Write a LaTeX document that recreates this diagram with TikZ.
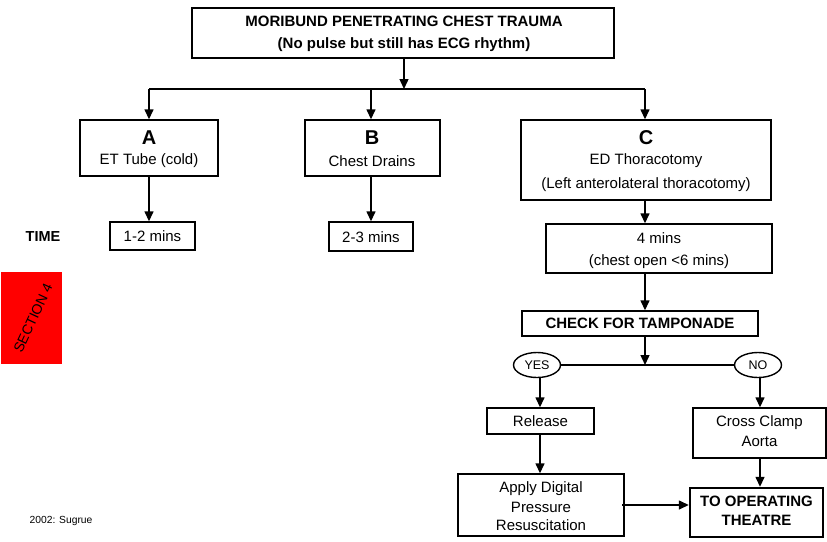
\documentclass[tikz,border=0pt]{standalone}
\usepackage{fontspec}
\setmainfont{Liberation Sans}
\usetikzlibrary{arrows.meta,shapes.geometric}
\begin{document}
\begin{tikzpicture}[x=1pt,y=-1pt,
  box/.style={draw,line width=1.4pt,inner sep=0pt},
  txt/.style={font=\fontsize{15}{18}\selectfont},
  btxt/.style={font=\fontsize{15}{18}\selectfont\bfseries},
  big/.style={font=\fontsize{20}{22}\selectfont\bfseries},
  oval/.style={draw,ellipse,line width=1.4pt,inner sep=0pt,font=\fontsize{12.5}{14}\selectfont},
  arr/.style={line width=1.4pt,-{Triangle[length=10pt,width=9pt]}},
  ln/.style={line width=1.4pt}]
\useasboundingbox (0,0) rectangle (827,541);
% a framed box given by its left, top, right and bottom edges
\newcommand{\boxat}[6][box]{\node[#1,minimum width=#4-#2,minimum height=#5-#3] (#6) at ({(#2+#4)/2},{(#3+#5)/2}) {};}
\boxat{192}{8}{614}{58}{top}
\node[btxt] (topt) at (404,21) {MORIBUND PENETRATING CHEST TRAUMA};
\node[btxt] (topt2) at (404,45) {(No pulse but still has ECG rhythm)};
\boxat{80}{120}{218}{176}{A}
\node[big] (Al) at (149,138) {A};
\node[txt] (At) at (149,161) {ET Tube (cold)};
\boxat{305}{120}{440}{176}{B}
\node[big] (Bl) at (372,138) {B};
\node[txt] (Bt) at (372,161) {Chest Drains};
\boxat{521}{120}{771}{200}{C}
\node[big] (Cl) at (646,138) {C};
\node[txt] (Ct) at (646,161) {ED Thoracotomy};
\node[txt] (Ct2) at (646,185) {(Left anterolateral thoracotomy)};
\boxat{110}{222}{195}{250}{ta}
\node[txt] (tat) at (152.5,236) {1-2 mins};
\boxat{329}{222}{413}{251}{tb}
\node[txt] (tbt) at (371,237) {2-3 mins};
\boxat{546}{224}{772}{273}{tc}
\node[txt] (tct) at (659,238) {4 mins};
\node[txt] (tct2) at (659,262) {(chest open <6 mins)};
\boxat{522}{311}{758}{336}{chk}
\node[btxt] (chkt) at (640,323.5) {CHECK FOR TAMPONADE};
\node[oval,minimum width=47,minimum height=25] (yes) at (537,365) {YES};
\node[oval,minimum width=47,minimum height=25] (no) at (758,365) {NO};
\boxat{487}{408}{594}{434}{rel}
\node[txt] (relt) at (540.5,421) {Release};
\boxat{693}{408}{826}{458}{ccl}
\node[txt] (cclt) at (759.5,423) {Cross Clamp};
\node[txt] (cclt2) at (759.5,441) {Aorta};
\boxat{458}{474}{624}{536}{dig}
\node[txt] (digt) at (541,489) {Apply Digital};
\node[txt] (digt2) at (541,507) {Pressure};
\node[txt] (digt3) at (541,525) {Resuscitation};
\node[draw,line width=2.4pt,minimum width=133,minimum height=49] (op) at (756.5,512.5) {};
\node[btxt] (opt) at (756.5,501) {TO OPERATING};
\node[btxt] (opt2) at (756.5,520) {THEATRE};
% side labels
\node[font=\fontsize{14.5}{16}\selectfont\bfseries] (time) at (43,237) {TIME};
\fill[red] (1,272) rectangle (62,364);
\node[rotate=65,font=\fontsize{14}{16}\selectfont,inner sep=0pt] (sec) at (33,318) {SECTION 4};
\node[font=\fontsize{10.3}{12}\selectfont] (cred) at (61,521) {2002: Sugrue};
% connectors
\coordinate (split) at (404,89);
\draw[arr] (top.south -| split) -- (split);
\draw[ln] (149,89) -- (645,89);
\draw[arr] (149,89) -- (A.north -| 149,0);
\draw[arr] (371,89) -- (B.north -| 371,0);
\draw[arr] (645,89) -- (C.north -| 645,0);
\draw[arr] (A.south -| 149,0) -- (ta.north -| 149,0);
\draw[arr] (B.south -| 371,0) -- (tb.north -| 371,0);
\draw[arr] (C.south -| 645,0) -- (tc.north -| 645,0);
\draw[arr] (tc.south -| 645,0) -- (chk.north -| 645,0);
\coordinate (join) at (645,365);
\draw[arr] (chk.south -| join) -- (join);
\draw[ln] (yes.east) -- (no.west);
\draw[arr] (yes.south -| 540,0) -- (rel.north -| 540,0);
\draw[arr] (no.south -| 760,0) -- (ccl.north -| 760,0);
\draw[arr] (rel.south -| 540,0) -- (dig.north -| 540,0);
\draw[arr] (760,458) -- (op.north -| 760,0);
\draw[arr] (622,505) -- (op.west |- 0,505);
\end{tikzpicture}
\end{document}
